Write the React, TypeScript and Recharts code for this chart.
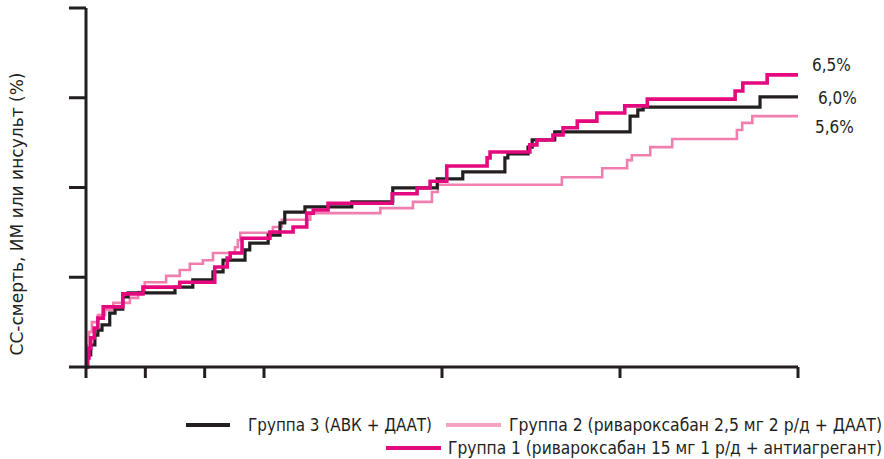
import React from "react";
import {
  LineChart,
  Line,
  XAxis,
  YAxis,
  ReferenceDot,
} from "recharts";

// months since randomisation -> cumulative event rate (%)
const group3Months = [0, 0.03, 0.08, 0.15, 0.2, 0.27, 0.4, 0.49, 0.62, 0.71, 1.5, 1.8, 2.14, 2.31, 2.68, 2.76, 3.07, 3.27, 3.35, 3.69, 4.48, 5.17, 5.92, 6.35, 7.06, 7.11, 7.45, 7.52, 7.9, 9.17, 9.3, 9.39, 11.36, 12];
const group3Rate = [0, 0.27, 0.49, 0.71, 0.82, 0.94, 1.2, 1.29, 1.56, 1.65, 1.78, 1.94, 2.12, 2.38, 2.61, 2.76, 2.94, 3.21, 3.45, 3.57, 3.68, 3.99, 4.19, 4.35, 4.66, 4.75, 4.9, 5.06, 5.24, 5.59, 5.73, 5.79, 6.02, 6.02];

const group2Months = [0, 0.02, 0.05, 0.1, 0.2, 0.32, 0.46, 0.74, 0.88, 0.99, 1.35, 1.58, 1.75, 1.97, 2.14, 2.51, 2.56, 2.6, 3.15, 3.3, 3.78, 4.96, 5.51, 5.83, 5.93, 8.02, 8.7, 9.12, 9.2, 9.51, 9.88, 10.97, 11.06, 11.23, 12];
const group2Rate = [0, 0.49, 0.78, 1.0, 1.16, 1.27, 1.43, 1.54, 1.67, 1.89, 2.03, 2.16, 2.3, 2.38, 2.54, 2.67, 2.83, 2.99, 3.12, 3.28, 3.43, 3.54, 3.68, 3.9, 4.06, 4.23, 4.43, 4.61, 4.72, 4.9, 5.08, 5.28, 5.44, 5.59, 5.59];

const group1Months = [0, 0.02, 0.05, 0.08, 0.14, 0.2, 0.29, 0.62, 0.96, 1.58, 2.17, 2.38, 2.43, 2.63, 3.1, 3.49, 3.72, 3.83, 4.08, 5.16, 5.58, 5.8, 6.08, 6.76, 6.81, 7.48, 7.6, 7.87, 8.04, 8.28, 8.61, 9.08, 9.46, 10.94, 11.07, 11.48, 12];
const group1Rate = [0, 0.2, 0.42, 0.65, 0.87, 1.09, 1.34, 1.63, 1.78, 1.89, 2.23, 2.43, 2.54, 2.87, 3.01, 3.12, 3.43, 3.5, 3.65, 3.86, 3.99, 4.14, 4.48, 4.66, 4.79, 4.95, 5.06, 5.17, 5.33, 5.48, 5.66, 5.82, 5.97, 6.15, 6.33, 6.51, 6.51];

const xTicks = [0, 1, 2, 3, 6, 9, 12];
const yTicks = [0, 2, 4, 6, 8];

const endLabels = [
  { text: "6,5%", y: 6.73, dx: 14 },
  { text: "6,0%", y: 5.99, dx: 20 },
  { text: "5,6%", y: 5.35, dx: 17 },
];

const yTitle = "СС-смерть, ИМ или инсульт (%)";
const legend3 = "Группа 3 (АВК + ДААТ)";
const legend2 = "Группа 2 (ривароксабан 2,5 мг 2 р/д + ДААТ)";
const legend1 = "Группа 1 (ривароксабан 15 мг 1 р/д + антиагрегант)";

const toPoints = (months: number[], rate: number[]) =>
  months.map((m, i) => ({ month: m, rate: rate[i] }));

const g3 = toPoints(group3Months, group3Rate);
const g2 = toPoints(group2Months, group2Rate);
const g1 = toPoints(group1Months, group1Rate);

const INK = "#231f20";
const PINK = "#f07fb0";
const PINK_LEGEND = "#f4a3c3";
const MAGENTA = "#e5097f";
const FONT = "'Liberation Sans Narrow', 'DejaVu Sans Condensed', Roboto, sans-serif";

const noLabel = () => "";

export default function App() {
  return (
    <div style={{ position: "absolute", left: 0, top: 0, width: 884, height: 459, background: "#fff" }}>
      <LineChart width={884} height={459} margin={{ top: 8, right: 86, left: 0, bottom: 0 }}>
        <XAxis
          dataKey="month"
          type="number"
          domain={[0, 12]}
          ticks={xTicks}
          tickFormatter={noLabel}
          tickSize={11}
          height={92}
          axisLine={{ stroke: INK, strokeWidth: 3 }}
          tickLine={{ stroke: INK, strokeWidth: 3 }}
        />
        <YAxis
          type="number"
          domain={[0, 8]}
          ticks={yTicks}
          tickFormatter={noLabel}
          tickSize={17}
          width={86}
          axisLine={{ stroke: INK, strokeWidth: 3 }}
          tickLine={{ stroke: INK, strokeWidth: 3 }}
          label={{
            content: () => (
              <text
                x={23}
                y={214}
                transform="rotate(-90 23 214)"
                textAnchor="middle"
                fontSize={17}
                fontFamily={FONT}
                fill={INK}
                textLength={283}
                lengthAdjust="spacingAndGlyphs"
              >
                {yTitle}
              </text>
            ),
          }}
        />
        <Line data={g2} dataKey="rate" type="stepAfter" stroke={PINK} strokeWidth={2.6} dot={false} activeDot={false} isAnimationActive={false} />
        <Line data={g3} dataKey="rate" type="stepAfter" stroke={INK} strokeWidth={3.2} dot={false} activeDot={false} isAnimationActive={false} />
        <Line data={g1} dataKey="rate" type="stepAfter" stroke={MAGENTA} strokeWidth={3.6} dot={false} activeDot={false} isAnimationActive={false} />
        {endLabels.map((l) => (
          <ReferenceDot
            key={l.text}
            x={12}
            y={l.y}
            r={0}
            ifOverflow="visible"
            label={{ value: l.text, position: "right", offset: l.dx, fontSize: 17, fill: INK, fontFamily: FONT }}
          />
        ))}
      </LineChart>
      <svg width={884} height={459} style={{ position: "absolute", left: 0, top: 0, pointerEvents: "none" }}>
        <g fontFamily={FONT} fontSize={17} fill={INK}>
          <line x1={186} x2={230} y1={425} y2={425} stroke={INK} strokeWidth={4} />
          <text x={248} y={431} textLength={184} lengthAdjust="spacingAndGlyphs">{legend3}</text>
          <line x1={446} x2={501} y1={425} y2={425} stroke={PINK_LEGEND} strokeWidth={4} />
          <text x={509} y={431} textLength={373} lengthAdjust="spacingAndGlyphs">{legend2}</text>
          <line x1={386} x2={441} y1={448} y2={448} stroke={MAGENTA} strokeWidth={4} />
          <text x={448} y={454} textLength={434} lengthAdjust="spacingAndGlyphs">{legend1}</text>
        </g>
      </svg>
    </div>
  );
}
